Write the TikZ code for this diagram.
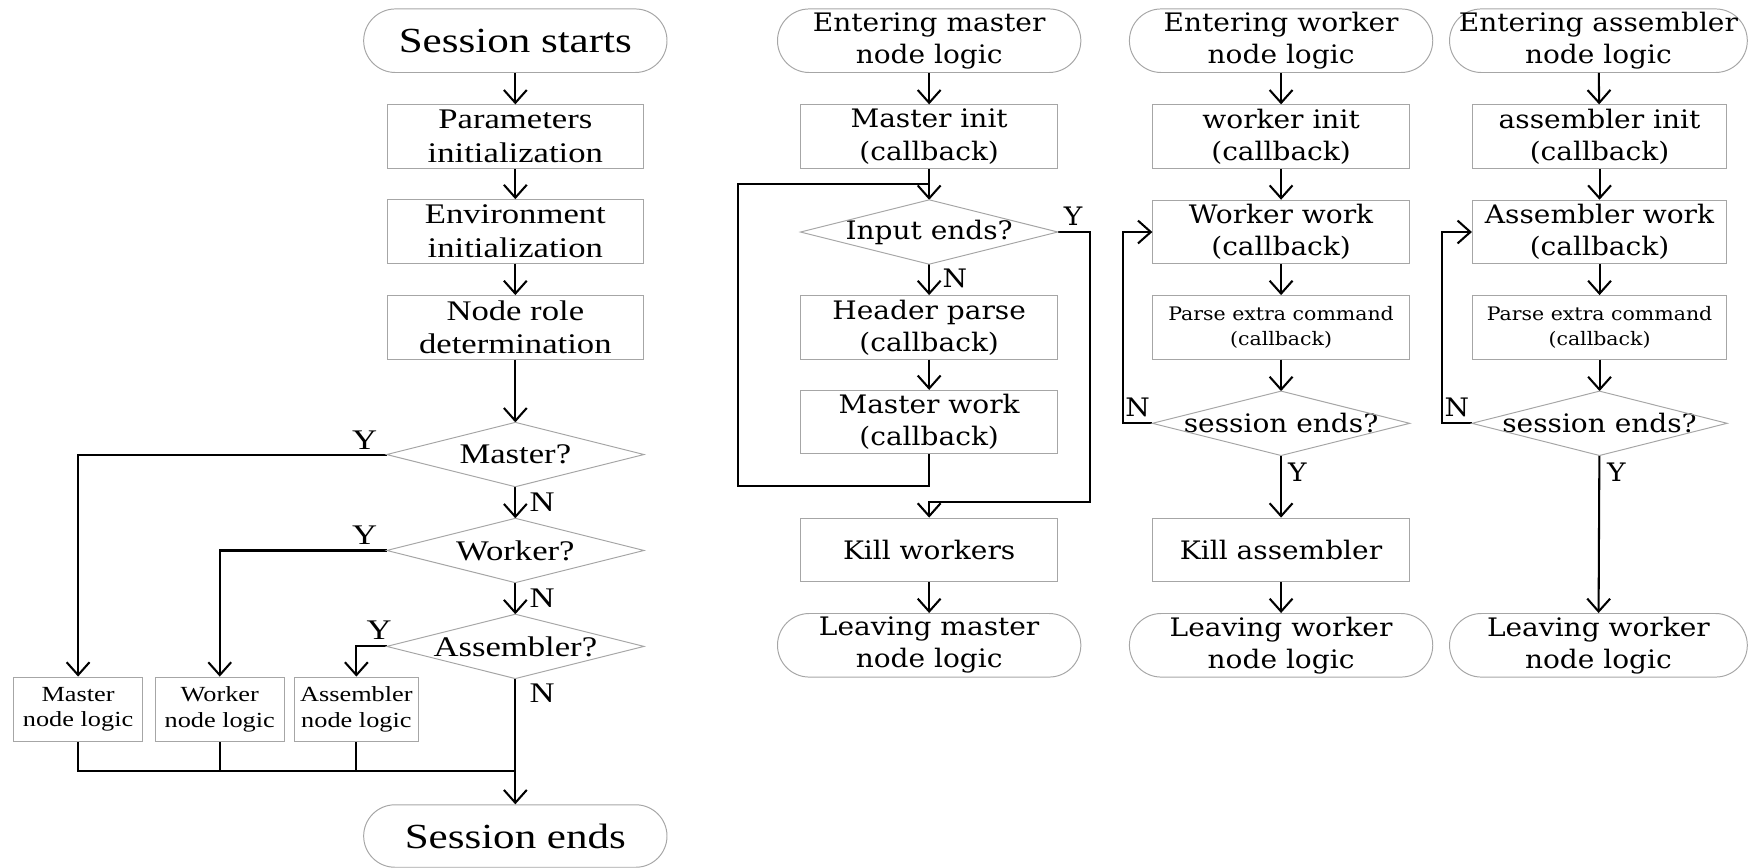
\documentclass[tikz,border=0pt]{standalone}
\usepackage{fontspec}
\setmainfont{DejaVu Serif}
\newfontfamily\lfont[FakeStretch=1.22]{Liberation Serif}
\newfontfamily\rfont[FakeStretch=1.1]{DejaVu Serif}
\usetikzlibrary{arrows.meta}

\begin{document}
\begin{tikzpicture}[x=0.02cm,y=-0.02cm,
  box/.style={draw=gray!70, line width=0.5pt, minimum width=4.6cm, minimum height=1.14cm, inner sep=0pt, align=center},
  term/.style={box, minimum width=5.44cm, rounded corners=0.57cm},
  dec/.style={minimum width=4.6cm, minimum height=1.14cm, inner sep=0pt, align=center},
  lbig/.style={font=\lfont\fontsize{18}{21}\selectfont},
  lf/.style={font=\lfont\fontsize{14.5}{17.2}\selectfont},
  lsmall/.style={font=\lfont\fontsize{11}{13}\selectfont},
  rf/.style={font=\rfont\fontsize{13}{16.4}\selectfont},
  rsmall/.style={font=\rfont\fontsize{9.5}{13}\selectfont},
  conn/.style={line width=1.05pt, black},
  arr/.style={conn, -{Straight Barb[length=2.3mm,width=4.1mm]}},
  dline/.style={draw=gray!70, line width=0.5pt},
  lbl/.style={inner sep=0pt}
]
\useasboundingbox (0,0) rectangle (1568,778);

% ---------------- main session flow ----------------
\node[term, lbig] (ss) at (462,36.5) {Session starts};
\node[box, lf] (pi) at (462,122.5) {Parameters\\initialization};
\node[box, lf] (ei) at (462,207.5) {Environment\\initialization};
\node[box, lf] (nr) at (462,293.5) {Node role\\determination};
\node[dec, lf] (dm) at (462,407.5) {Master?};
\node[dec, lf] (dw) at (462,493.5) {Worker?};
\node[dec, lf] (da) at (462,579.5) {Assembler?};
\node[box, lsmall, minimum width=2.32cm, minimum height=1.16cm] (mnl) at (70,636) {Master\\node logic};
\node[box, lsmall, minimum width=2.32cm, minimum height=1.16cm] (wnl) at (197,636) {Worker\\node logic};
\node[box, lsmall, minimum width=2.22cm, minimum height=1.16cm] (anl) at (319.5,636) {Assembler\\node logic};
\node[term, lbig, minimum height=1.12cm, rounded corners=0.56cm] (se) at (462,749.5) {Session ends};
\coordinate (jn) at (462,691);

\draw[arr] (ss) -- (pi);
\draw[arr] (pi) -- (ei);
\draw[arr] (ei) -- (nr);
\draw[arr] (nr) -- (dm);
\draw[arr] (dm) -- (dw);
\draw[arr] (dw) -- (da);
\draw[arr] (dm.west) -| (mnl.north);
\draw[arr] (dw.west) -| (wnl.north);
\draw[arr] (da.west) -| (anl.north);
\draw[arr] (da.south) -- (se.north);
\draw[conn] (mnl.south) |- (jn);
\draw[conn] (wnl.south) -- (wnl.south |- jn);
\draw[conn] (anl.south) -- (anl.south |- jn);

\node[lbl, lf] (ym) at (327,395) {Y};
\node[lbl, lf] (yw) at (327,480) {Y};
\node[lbl, lf] (ya) at (340,565) {Y};
\node[lbl, lf] (nm) at (486,450) {N};
\node[lbl, lf] (nw) at (486,536) {N};
\node[lbl, lf] (na) at (486,621) {N};

% ---------------- master node logic ----------------
\node[term, rf] (em) at (833,36.5) {Entering master\\node logic};
\node[box, rf] (mi) at (833,122.5) {Master init\\(callback)};
\node[dec, rf] (di) at (833,208) {Input ends?};
\node[box, rf] (hp) at (833,293.5) {Header parse\\(callback)};
\node[box, rf] (mw) at (833,378.5) {Master work\\(callback)};
\node[box, rf] (kw) at (833,493) {Kill workers};
\node[term, rf] (lm) at (833,578.5) {Leaving master\\node logic};
\coordinate (lpB) at (662,436);
\coordinate (lpM) at (833,165);
\coordinate (yR) at (977,450);

\draw[arr] (em) -- (mi);
\draw[arr] (mi) -- (di);
\draw[arr] (di) -- (hp);
\draw[arr] (hp) -- (mw);
\draw[conn] (mw.south) |- (lpB) |- (lpM);
\draw[arr] (di.east) -| (yR) -| (kw.north);
\draw[arr] (kw) -- (lm);
\node[lbl, rf] (nin) at (856,250) {N};
\node[lbl, rf] (yin) at (962,194) {Y};

% ---------------- worker node logic ----------------
\node[term, rf] (ew) at (1148.5,36.5) {Entering worker\\node logic};
\node[box, rf] (wi) at (1148.5,122.5) {worker init\\(callback)};
\node[box, rf] (ww) at (1148.5,208) {Worker work\\(callback)};
\node[box, rsmall] (pw) at (1148.5,293.5) {Parse extra command\\(callback)};
\node[dec, rf] (sw) at (1148.5,379.5) {session ends?};
\node[box, rf] (ka) at (1148.5,493) {Kill assembler};
\node[term, rf] (lw) at (1148.5,578.5) {Leaving worker\\node logic};
\coordinate (lw3) at (1007,379.5);

\draw[arr] (ew) -- (wi);
\draw[arr] (wi) -- (ww);
\draw[arr] (ww) -- (pw);
\draw[arr] (pw) -- (sw);
\draw[arr] (sw.west) -- (lw3) |- (ww.west);
\draw[arr] (sw) -- (ka);
\draw[arr] (ka) -- (lw);
\node[lbl, rf] (nsw) at (1020,365) {N};
\node[lbl, rf] (ysw) at (1163,423) {Y};

% ---------------- assembler node logic ----------------
\node[term, rf, minimum width=5.34cm] (ea) at (1433,36.5) {Entering assembler\\node logic};
\node[box, rf, minimum width=4.56cm] (ai) at (1434,122.5) {assembler init\\(callback)};
\node[box, rf, minimum width=4.56cm] (aw) at (1434,208) {Assembler work\\(callback)};
\node[box, rsmall, minimum width=4.56cm] (pa) at (1434,293.5) {Parse extra command\\(callback)};
\node[dec, rf, minimum width=4.56cm] (sa) at (1434,379.5) {session ends?};
\node[term, rf, minimum width=5.34cm] (la) at (1433,578.5) {Leaving worker\\node logic};
\coordinate (lw4) at (1293,379.5);

\draw[arr] (ea) -- (ai);
\draw[arr] (ai) -- (aw);
\draw[arr] (aw) -- (pa);
\draw[arr] (pa) -- (sa);
\draw[arr] (sa.west) -- (lw4) |- (aw.west);
\draw[arr] (sa) -- (la);
\node[lbl, rf] (nsa) at (1306,365) {N};
\node[lbl, rf] (ysa) at (1449,423) {Y};

% decision outlines
\foreach \d in {dm,dw,da,di,sw,sa}
  \draw[dline] (\d.west) -- (\d.north) -- (\d.east) -- (\d.south) -- cycle;
\end{tikzpicture}
\end{document}
